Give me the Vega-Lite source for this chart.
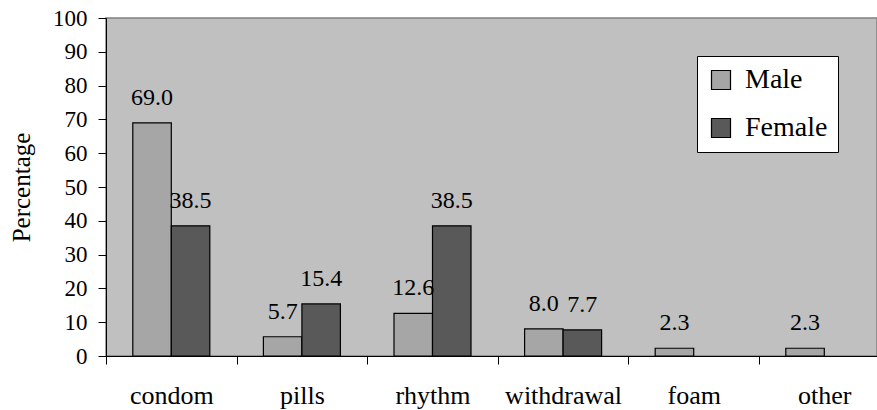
{
  "$schema": "https://vega.github.io/schema/vega-lite/v6.json",
  "width": 771,
  "height": 338,
  "autosize": {"type": "none"},
  "padding": {"left": 106, "top": 18, "right": 0, "bottom": 54},
  "background": "white",
  "config": {
    "font": "Liberation Serif",
    "view": {"stroke": "#808080", "strokeWidth": 1.5, "fill": "#c0c0c0"}
  },
  "data": {
    "values": [
      {"method": "condom", "sex": "Male", "value": 69.0},
      {"method": "condom", "sex": "Female", "value": 38.5},
      {"method": "pills", "sex": "Male", "value": 5.7},
      {"method": "pills", "sex": "Female", "value": 15.4},
      {"method": "rhythm", "sex": "Male", "value": 12.6},
      {"method": "rhythm", "sex": "Female", "value": 38.5},
      {"method": "withdrawal", "sex": "Male", "value": 8.0},
      {"method": "withdrawal", "sex": "Female", "value": 7.7},
      {"method": "foam", "sex": "Male", "value": 2.3},
      {"method": "other", "sex": "Male", "value": 2.3}
    ]
  },
  "encoding": {
    "x": {
      "field": "method",
      "type": "nominal",
      "sort": ["condom", "pills", "rhythm", "withdrawal", "foam", "other"],
      "scale": {"type": "band", "paddingInner": 0, "paddingOuter": 0, "range": [0, 783.6]},
      "axis": {
        "title": null,
        "labelAngle": 0,
        "labelFont": "Liberation Serif",
        "labelFontSize": 26,
        "labelColor": "black",
        "labelPadding": 18,
        "tickBand": "extent",
        "tickSize": 8,
        "tickColor": "black",
        "domainColor": "black",
        "domainWidth": 1,
        "grid": false
      }
    },
    "xOffset": {
      "field": "sex",
      "type": "nominal",
      "sort": ["Male", "Female"],
      "scale": {"domain": ["Male", "Female"], "paddingOuter": 0.696, "paddingInner": 0}
    },
    "y": {
      "field": "value",
      "type": "quantitative",
      "scale": {"domain": [0, 100], "nice": false},
      "axis": {
        "title": "Percentage",
        "values": [0, 10, 20, 30, 40, 50, 60, 70, 80, 90, 100],
        "labelOverlap": false,
        "labelFont": "Liberation Serif",
        "labelFontSize": 23,
        "labelColor": "black",
        "labelPadding": 11,
        "tickSize": 8,
        "tickColor": "black",
        "domainColor": "black",
        "grid": false,
        "titleFont": "Liberation Serif",
        "titleFontSize": 25,
        "titleFontWeight": "normal",
        "titleColor": "black",
        "titlePadding": 18
      }
    }
  },
  "layer": [
    {
      "mark": {"type": "bar", "stroke": "black", "strokeWidth": 1.2},
      "encoding": {
        "color": {
          "field": "sex",
          "type": "nominal",
          "sort": ["Male", "Female"],
          "scale": {"domain": ["Male", "Female"], "range": ["#a6a6a6", "#595959"]},
          "legend": {
            "title": null,
            "orient": "none",
            "legendX": 591,
            "legendY": 38,
            "padding": 10,
            "fillColor": "white",
            "strokeColor": "black",
            "symbolType": "square",
            "symbolSize": 361,
            "symbolStrokeColor": "black",
            "symbolStrokeWidth": 1.2,
            "labelFont": "Liberation Serif",
            "labelFontSize": 28,
            "labelColor": "black",
            "labelOffset": 10,
            "rowPadding": 20
          }
        }
      }
    },
    {
      "mark": {"type": "text", "baseline": "alphabetic", "dy": -18, "fontSize": 24, "color": "black", "font": "Liberation Serif"},
      "encoding": {
        "text": {"field": "value", "type": "quantitative", "format": ".1f"}
      }
    }
  ]
}
